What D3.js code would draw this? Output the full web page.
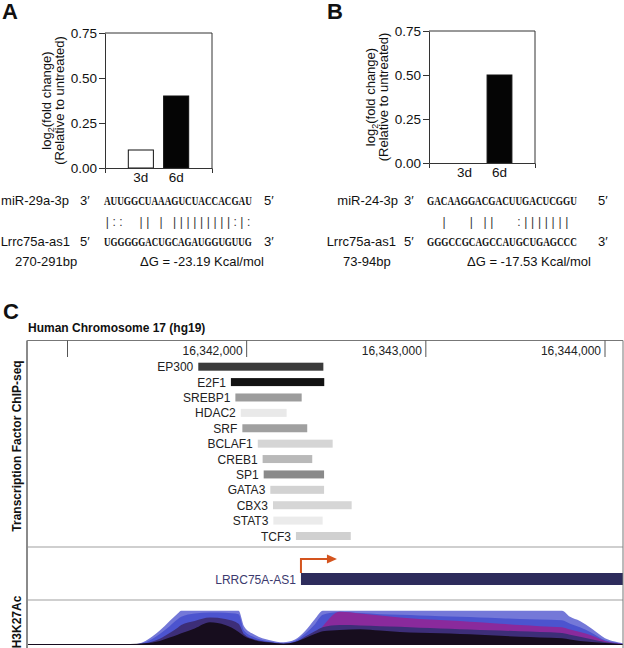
<!DOCTYPE html>
<html><head><meta charset="utf-8">
<script src="https://cdn.jsdelivr.net/npm/d3@7"></script>
<style>body{margin:0;background:#fff}svg{display:block;font-family:"Liberation Sans",Arial,sans-serif}</style>
</head><body><svg id="c" width="624" height="648"></svg>
<script>
// ---------- data ----------
const categories = ["3d", "6d"];
const valuesA = [0.10, 0.40];
const valuesB = [0.00, 0.50];
const yTicks = [0, 0.25, 0.50, 0.75];

const mirA = "AUUGGCUAAAGUCUACCACGAU";
const pairA = "|::  || | |||||||||:|:";
const targetA = "UGGGGGACUGCAGAUGGUGUUG";
const mirB = "GACAAGGACGACUUGACUCGGU";
const pairB = "  |   | ||   :||||||| ";
const targetB = "GGGCCGCAGCCAUGCUGAGCCC";

const genomeTicks = [16341000, 16342000, 16343000, 16344000];
const genomeTickLabels = ["", "16,342,000", "16,343,000", "16,344,000"];

const tfNames = ["EP300","E2F1","SREBP1","HDAC2","SRF","BCLAF1","CREB1","SP1","GATA3","CBX3","STAT3","TCF3"];
const tfStart = [16341730,16341912,16341937,16341967,16341976,16342062,16342089,16342095,16342132,16342147,16342149,16342275];
const tfEnd   = [16342428,16342433,16342307,16342223,16342338,16342480,16342366,16342432,16342432,16342586,16342424,16342581];
const tfShade = ["#3b3b3b","#121212","#9c9c9c","#e9e9e9","#a0a0a0","#d5d5d5","#b9b9b9","#8a8a8a","#d2d2d2","#d6d6d6","#ebebeb","#d0d0d0"];

const geneName = "LRRC75A-AS1";
const geneStart = 16342303, geneEnd = 16344300;

const h3Pos = [16340775,16341350,16341435,16341515,16341570,16341615,16341635,16341710,16341795,16341880,16341955,16341985,16342045,16342130,16342205,16342270,16342325,16342380,16342425,16342520,16342635,16342745,16342855,16342965,16343080,16343190,16343300,16343415,16343525,16343635,16343760,16343805,16343860,16343925,16344000,16344055,16344100];
const h3Layer1 = [1,1,12,42,70,92,100,100,100,100,100,55,30,14,8,16,40,75,100,100,100,100,100,100,100,100,100,100,100,100,100,82,70,48,20,10,5];
const h3Layer2 = [0,0,8,32,55,75,82,92,95,94,90,42,22,10,5,12,32,60,88,96,93,90,88,86,84,82,80,78,76,74,72,62,52,36,14,7,3];
const h3Layer3 = [0,0,0,0,0,0,0,0,0,0,0,0,0,0,0,3,10,25,55,97,92,86,80,76,73,70,66,62,58,55,52,45,38,28,12,6,3];
const h3Layer4 = [0,0,5,18,35,50,58,70,80,76,62,32,16,8,4,9,24,40,52,58,57,55,53,50,48,46,44,42,40,38,35,30,24,17,9,5,2];
const h3Layer5 = [3,3,5,12,22,30,34,48,66,58,38,26,14,7,4,9,20,32,40,44,46,42,38,36,34,32,30,27,24,22,20,16,12,9,6,4,3];
const h3Layers = [h3Layer1, h3Layer2, h3Layer3, h3Layer4, h3Layer5];
const h3Colors = ["#7478d8", "#4c54cf", "#8a2a9c", "#3d2e78", "#170d1e"];

// ---------- drawing ----------
const svg = d3.select("#c");

function panelLetter(t, x, y) {
  svg.append("text").attr("x", x).attr("y", y).attr("font-size", 22)
     .attr("font-weight", "bold").attr("fill", "#111").text(t);
}

function barPanel(frame, values) {
  const g = svg.append("g");
  const x = d3.scaleBand().domain(categories).range([frame.x0, frame.x1])
              .paddingInner(0.29).paddingOuter(0.66);
  const y = d3.scaleLinear().domain([0, 0.75]).range([frame.y1, frame.y0]);
  g.append("path").attr("d", `M${frame.x0},${frame.y0}H${frame.x1}V${frame.y1}`)
   .attr("fill", "none").attr("stroke", "#333").attr("stroke-width", 1);
  g.selectAll("rect.bar").data(categories).join("rect")
   .attr("x", d => x(d)).attr("width", x.bandwidth())
   .attr("y", (d, i) => y(values[i])).attr("height", (d, i) => y(0) - y(values[i]))
   .attr("fill", (d, i) => i === 0 ? "#fff" : "#050505")
   .attr("stroke", (d, i) => values[i] > 0 ? "#111" : "none").attr("stroke-width", 1);
  const ya = g.append("g").attr("transform", `translate(${frame.x0},0)`)
    .call(d3.axisLeft(y).tickValues(yTicks).tickFormat(d3.format(".2f"))
          .tickSize(6).tickSizeOuter(0).tickPadding(2));
  const xa = g.append("g").attr("transform", `translate(0,${frame.y1})`)
    .call(d3.axisBottom(x).tickSizeInner(0).tickSizeOuter(5).tickPadding(4));
  [ya, xa].forEach(a => {
    a.attr("font-family", null).attr("font-size", 13.5);
    a.selectAll("text").attr("fill", "#111");
    a.selectAll("path,line").attr("stroke", "#333");
  });
  const cy = (frame.y0 + frame.y1) / 2;
  const t1 = g.append("text").attr("transform", `translate(${frame.x0 - 54},${cy}) rotate(-90)`)
    .attr("text-anchor", "middle").attr("font-size", 13).attr("fill", "#111");
  t1.append("tspan").text("log");
  t1.append("tspan").attr("font-size", 9).attr("dy", 3).text("2");
  t1.append("tspan").attr("dy", -3).text("(fold change)");
  g.append("text").attr("transform", `translate(${frame.x0 - 41},${cy}) rotate(-90)`)
    .attr("text-anchor", "middle").attr("font-size", 13).attr("fill", "#111")
    .text("(Relative to untreated)");
}

function seqBlock(cfg) {
  const g = svg.append("g").attr("fill", "#111");
  const cw = cfg.width / cfg.mir.length;
  const rows = [205, 226, 246, 266];
  const lab = (t, x, y, anchor) => g.append("text").attr("x", x).attr("y", y)
      .attr("font-size", 13).attr("text-anchor", anchor || "start").text(t);
  lab(cfg.mirLabel, cfg.labelEnd, rows[0], "end");
  lab("3\u2032", cfg.endX1, rows[0]);
  lab(cfg.tgtLabel, cfg.labelEnd2, rows[2], "end");
  lab("5\u2032", cfg.endX1, rows[2]);
  lab("5\u2032", cfg.endX2, rows[0]);
  lab("3\u2032", cfg.endX2, rows[2]);
  lab(cfg.bp, cfg.bpX, rows[3]);
  lab(cfg.dg, cfg.dgX, rows[3]);
  [[cfg.mir, rows[0]], [cfg.tgt, rows[2]]].forEach(([s, yy]) => {
    const t = g.append("text").attr("x", 0).attr("y", 0)
     .attr("font-family", "'Liberation Serif','Times New Roman',serif")
     .attr("font-weight", "bold").attr("font-size", 12.5).text(s);
    const natural = t.node().getComputedTextLength();
    t.attr("transform", `translate(${cfg.seqX},${yy}) scale(${cfg.width / natural},1)`);
  });
  const chars = cfg.pair.split("").map((c, i) => ({c, i})).filter(d => d.c !== " ");
  g.append("g").attr("opacity", 0.99).selectAll("text.pair").data(chars).join("text").attr("class", "pair")
   .attr("x", d => cfg.seqX + (d.i + 0.5) * cw).attr("y", rows[1])
   .attr("text-anchor", "middle").attr("font-size", 12).attr("fill", "#333").text(d => d.c);
}

// Panel A
panelLetter("A", 2, 19);
barPanel({x0: 105, x1: 212, y0: 33, y1: 168}, valuesA);
seqBlock({mir: mirA, pair: pairA, tgt: targetA, mirLabel: "miR-29a-3p", tgtLabel: "Lrrc75a-as1",
  labelEnd: 69, labelEnd2: 70, endX1: 80, seqX: 104, width: 148, endX2: 264,
  bp: "270-291bp", bpX: 15, dg: "\u0394G = -23.19 Kcal/mol", dgX: 140});

// Panel B
panelLetter("B", 327, 19);
barPanel({x0: 429, x1: 535, y0: 31, y1: 163}, valuesB);
seqBlock({mir: mirB, pair: pairB, tgt: targetB, mirLabel: "miR-24-3p", tgtLabel: "Lrrc75a-as1",
  labelEnd: 398, labelEnd2: 396, endX1: 404, seqX: 427, width: 150, endX2: 598,
  bp: "73-94bp", bpX: 343, dg: "\u0394G = -17.53 Kcal/mol", dgX: 467});

// Panel C
panelLetter("C", 3, 319);
svg.append("text").attr("x", 28).attr("y", 332).attr("font-size", 12).attr("font-weight", "bold")
   .attr("fill", "#111").text("Human Chromosome 17 (hg19)");

const bx0 = 27, bx1 = 623, by0 = 340.5, by1 = 648;
const gx = d3.scaleLinear().domain([16341000, 16344000]).range([67.5, 605]);

svg.append("defs").append("clipPath").attr("id", "box")
   .append("rect").attr("x", bx0).attr("y", by0).attr("width", bx1 - bx0).attr("height", by1 - by0);

const gc = svg.append("g");
// tracks
const tfy = d3.scalePoint().domain(tfNames).range([366.7, 536]);
gc.selectAll("rect.tf").data(tfNames).join("rect")
  .attr("x", (d, i) => gx(tfStart[i])).attr("width", (d, i) => gx(tfEnd[i]) - gx(tfStart[i]))
  .attr("y", d => tfy(d) - 4).attr("height", 8).attr("fill", (d, i) => tfShade[i]);
gc.selectAll("text.tf").data(tfNames).join("text")
  .attr("x", (d, i) => gx(tfStart[i]) - 5).attr("y", d => tfy(d) + 4.5)
  .attr("text-anchor", "end").attr("font-size", 12).attr("fill", "#222").text(d => d);

// separators
[547, 600].forEach(yy => gc.append("line").attr("x1", bx0).attr("x2", bx1).attr("y1", yy).attr("y2", yy)
  .attr("stroke", "#cfcfcf").attr("stroke-width", 2));

// gene
const gg = gc.append("g").attr("clip-path", "url(#box)");
gg.append("rect").attr("x", gx(geneStart)).attr("width", gx(geneEnd) - gx(geneStart))
  .attr("y", 573).attr("height", 12).attr("fill", "#2e2c5c");
gc.append("text").attr("x", gx(geneStart) - 5).attr("y", 583.5).attr("text-anchor", "end")
  .attr("font-size", 12).attr("fill", "#3c3a6e").text(geneName);
const ax = gx(geneStart);
gc.append("path").attr("d", `M${ax},573V559H${ax + 27}`).attr("fill", "none")
  .attr("stroke", "#d4541e").attr("stroke-width", 2);
gc.append("path").attr("d", `M${ax + 26},554.5L${ax + 36},559L${ax + 26},563.5Z`).attr("fill", "#d4541e");

// H3K27Ac
const hy = d3.scaleLinear().domain([0, 100]).range([645, 610.7]);
const hg = gc.append("g").attr("clip-path", "url(#box)");
h3Layers.forEach((layer, li) => {
  const area = d3.area().x((d, i) => gx(h3Pos[i])).y0(hy(0)).y1(d => hy(d)).curve(d3.curveMonotoneX);
  hg.append("path").datum(layer).attr("d", area).attr("fill", h3Colors[li]);
});

// box & ticks
gc.append("line").attr("x1", bx0).attr("x2", bx1).attr("y1", by0).attr("y2", by0).attr("stroke", "#777").attr("stroke-width", 1);
gc.append("line").attr("x1", bx1).attr("x2", bx1).attr("y1", by0).attr("y2", by1).attr("stroke", "#777").attr("stroke-width", 1);
gc.append("line").attr("x1", bx0).attr("x2", bx0).attr("y1", by0).attr("y2", by1).attr("stroke", "#8a8a8a").attr("stroke-width", 2);
gc.selectAll("line.gt").data(genomeTicks).join("line").attr("class", "gt")
  .attr("x1", d => gx(d)).attr("x2", d => gx(d)).attr("y1", by0).attr("y2", 357)
  .attr("stroke", "#555").attr("stroke-width", 1);
gc.selectAll("text.gt").data(genomeTicks).join("text").attr("class", "gt")
  .attr("x", d => gx(d) - 4).attr("y", 355).attr("text-anchor", "end")
  .attr("font-size", 12).attr("fill", "#222").text((d, i) => genomeTickLabels[i]);

// side labels
gc.append("text").attr("transform", "translate(21,446) rotate(-90)").attr("text-anchor", "middle")
  .attr("font-size", 12).attr("font-weight", "bold").attr("fill", "#111").text("Transcription Factor ChIP-seq");
gc.append("text").attr("transform", "translate(21,622) rotate(-90)").attr("text-anchor", "middle")
  .attr("font-size", 12).attr("font-weight", "bold").attr("fill", "#111").text("H3K27Ac");
</script></body></html>
